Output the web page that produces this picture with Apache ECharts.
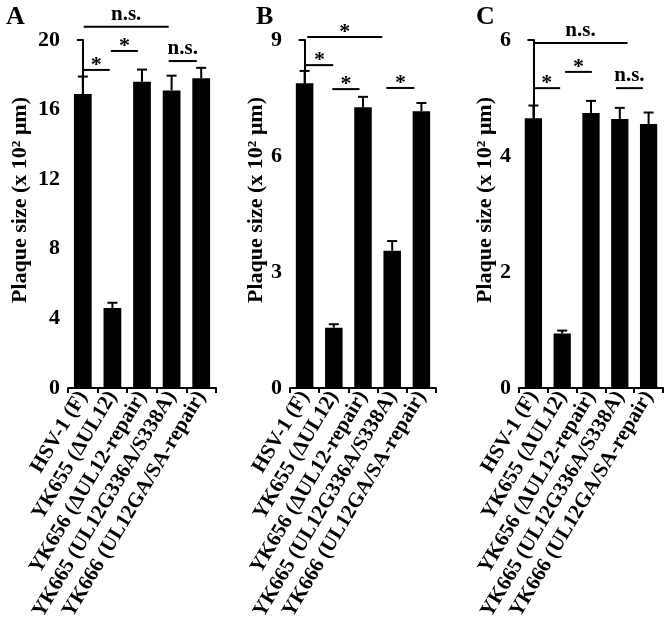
<!DOCTYPE html>
<html><head><meta charset="utf-8">
<script src="https://cdn.jsdelivr.net/npm/echarts@6/dist/echarts.min.js"></script>
<style>html,body{margin:0;padding:0;background:#fff}#c{width:666px;height:630px}</style>
</head><body><div id="c"></div>
<script>
// ---- data ----
const categories = ['HSV-1 (F)', 'YK655 (\u0394UL12)', 'YK656 (\u0394UL12-repair)', 'YK665 (UL12G336A/S338A)', 'YK666 (UL12GA/SA-repair)'];
const panelLetters = ['A', 'B', 'C'];
const yTitle = 'Plaque size (x 10\u00B2 \u03BCm)';

const meansA = [16.9, 4.6, 17.6, 17.1, 17.8];
const errA   = [1.0, 0.3, 0.7, 0.85, 0.6];
const meansB = [7.88, 1.56, 7.26, 3.55, 7.16];
const errB   = [0.32, 0.09, 0.27, 0.25, 0.21];
const meansC = [4.65, 0.94, 4.74, 4.64, 4.55];
const errC   = [0.22, 0.05, 0.21, 0.19, 0.20];

const yMaxes = [20, 9, 6];
const yIntervals = [4, 3, 2];

// significance brackets: [from (category pos), to (category pos), height (y value), label]
const sigA = [[0, 0.91, 18.28, '*'], [0.95, 1.86, 19.37, '*'], [0.03, 2.9, 20.76, 'n.s.'], [2.9, 3.85, 18.79, 'n.s.']];
const sigB = [[0.09, 2.66, 9.08, '*'], [0.04, 0.98, 8.35, '*'], [0.95, 1.88, 7.73, '*'], [2.8, 3.76, 7.76, '*']];
const sigC = [[0, 3.27, 5.95, 'n.s.'], [0, 0.93, 5.17, '*'], [1.1, 2.03, 5.45, '*'], [2.87, 3.8, 5.17, 'n.s.']];

const means = [meansA, meansB, meansC];
const errs = [errA, errB, errC];
const sigs = [sigA, sigB, sigC];

// ---- layout / style ----
const FONT = 'Liberation Serif';
const gridPos = [{left: 68, width: 148}, {left: 290, width: 146}, {left: 519, width: 144}];
const nameGaps = [37, 20, 23];
const letterX = [1, 251, 471];

const chart = echarts.init(document.getElementById('c'), null, {renderer: 'canvas'});

const grids = [], xAxes = [], yAxes = [], series = [], titles = [];
for (let g = 0; g < 3; g++) {
  grids.push({left: gridPos[g].left, width: gridPos[g].width, top: 40, bottom: 242, containLabel: false});
  titles.push({text: panelLetters[g], left: letterX[g], top: -1,
    textStyle: {fontFamily: FONT, fontWeight: 'bold', fontSize: 26, color: '#000'}});
  xAxes.push({
    type: 'category', gridIndex: g, data: categories,
    axisLine: {show: true, lineStyle: {color: '#000', width: 2}},
    axisTick: {show: true, length: 5, lineStyle: {color: '#000', width: 2}},
    axisLabel: {interval: 0, rotate: 59, margin: 5, color: '#000', fontFamily: FONT, fontWeight: 'bold', fontSize: 21},
    splitLine: {show: false}
  });
  xAxes.push({type: 'value', gridIndex: g, min: -0.5, max: 4.5, show: false});
  yAxes.push({
    type: 'value', gridIndex: g, min: 0, max: yMaxes[g], interval: yIntervals[g],
    name: yTitle, nameLocation: 'middle', nameGap: nameGaps[g],
    nameTextStyle: {fontFamily: FONT, fontWeight: 'bold', fontSize: 22, color: '#000', padding: [0, 0, 0, 28]},
    axisLine: {show: true, lineStyle: {color: '#000', width: 2}},
    axisTick: {show: true, length: 6, lineStyle: {color: '#000', width: 2}},
    axisLabel: {margin: 8, color: '#000', fontFamily: FONT, fontWeight: 'bold', fontSize: 22},
    splitLine: {show: false}
  });
  series.push({
    type: 'bar', xAxisIndex: g * 2, yAxisIndex: g, data: means[g],
    barWidth: '60%', itemStyle: {color: '#000'}, silent: true
  });
  const errData = means[g].map((m, i) => [i, m, errs[g][i]]);
  series.push({
    type: 'custom', xAxisIndex: g * 2, yAxisIndex: g, data: errData, clip: false, silent: true,
    renderItem: function (params, api) {
      const x = api.value(0), m = api.value(1), e = api.value(2);
      const p0 = api.coord([x, m]);
      const p1 = api.coord([x, m + e]);
      const hw = 5;
      return {type: 'group', children: [
        {type: 'line', shape: {x1: p0[0], y1: p0[1], x2: p1[0], y2: p1[1]}, style: {stroke: '#000', lineWidth: 2}},
        {type: 'line', shape: {x1: p1[0] - hw, y1: p1[1], x2: p1[0] + hw, y2: p1[1]}, style: {stroke: '#000', lineWidth: 2}}
      ]};
    }
  });
  const sig = sigs[g];
  series.push({
    type: 'custom', xAxisIndex: g * 2 + 1, yAxisIndex: g, clip: false, silent: true,
    data: sig.map(s => [s[0], s[1], s[2]]),
    renderItem: function (params, api) {
      const a = api.coord([api.value(0), api.value(2)]);
      const b = api.coord([api.value(1), api.value(2)]);
      const label = sig[params.dataIndex][3];
      const star = label === '*';
      return {type: 'group', children: [
        {type: 'line', shape: {x1: a[0], y1: a[1], x2: b[0], y2: b[1]}, style: {stroke: '#000', lineWidth: 2}},
        {type: 'text', x: (a[0] + b[0]) / 2, y: star ? a[1] + 6 : a[1] - 2,
          style: {text: label, fill: '#000', font: 'bold ' + (star ? 22 : 21) + 'px "' + FONT + '"',
            textAlign: 'center', textVerticalAlign: 'bottom'}}
      ]};
    }
  });
}

chart.setOption({
  backgroundColor: '#fff',
  animation: false,
  title: titles,
  grid: grids,
  xAxis: xAxes,
  yAxis: yAxes,
  series: series
});
</script></body></html>
